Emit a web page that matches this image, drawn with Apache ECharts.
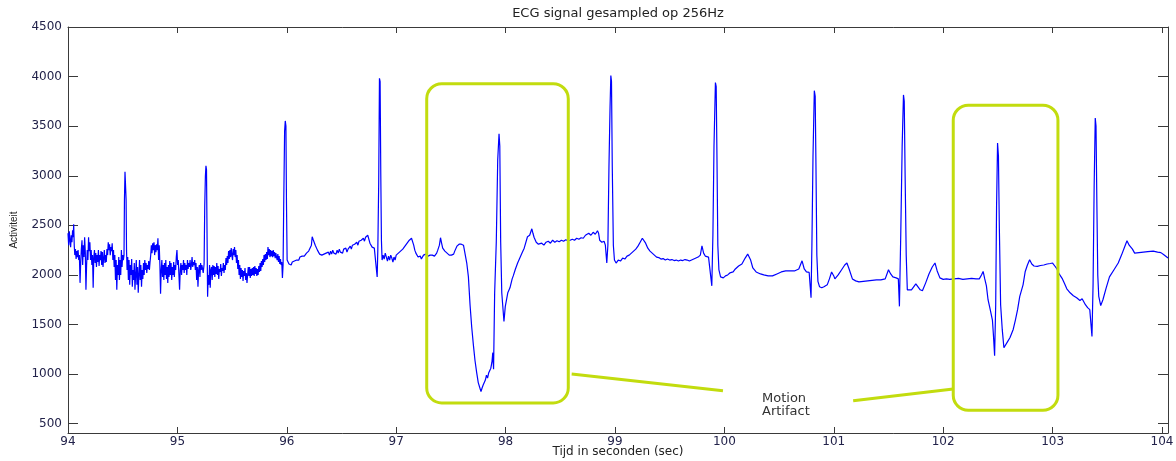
<!DOCTYPE html>
<html><head><meta charset="utf-8">
<script src="https://cdn.jsdelivr.net/npm/echarts@6/dist/echarts.min.js"></script>
<style>html,body{margin:0;padding:0;background:#fff}#chart{width:1176px;height:461px}</style>
</head><body><div id="chart"></div>
<script>
const chartTitle = 'ECG signal gesampled op 256Hz';
const xAxisName = 'Tijd in seconden (sec)';
const yAxisName = 'Activiteit';
const xTickLabels = [94, 95, 96, 97, 98, 99, 100, 101, 102, 103, 104];
const yTickLabels = [500, 1000, 1500, 2000, 2500, 3000, 3500, 4000, 4500];
const xRange = [94, 104.055];
const yRange = [406, 4500];

// ECG samples [time (s), activity], one array per second
const seg94 = [[94.000,2420],[94.006,2300],[94.012,2440],[94.018,2350],[94.024,2280],[94.030,2400],[94.036,2330],[94.042,2450],[94.048,2380],[94.052,2510],[94.057,2300],[94.062,2200],[94.068,2260],[94.074,2160],[94.080,2240],[94.086,2180],[94.092,2250],[94.098,2150],[94.104,2200],[94.110,1920],[94.116,2120],[94.122,2260],[94.128,2350],[94.134,2100],[94.140,2300],[94.146,2180],[94.152,2380],[94.158,2230],[94.164,1850],[94.170,2100],[94.176,2250],[94.182,2150],[94.188,2380],[94.194,2240],[94.200,2330],[94.206,2150],[94.212,2250],[94.218,2100],[94.224,2200],[94.230,1870],[94.236,2180],[94.242,2250],[94.248,2120],[94.254,2220],[94.260,2080],[94.266,2200],[94.272,2130],[94.278,2250],[94.284,2090],[94.290,2200],[94.296,2150],[94.302,2240],[94.308,2100],[94.314,2230],[94.320,2080],[94.326,2170],[94.332,2250],[94.338,2120],[94.344,2200],[94.350,2130],[94.356,2260],[94.362,2200],[94.368,2330],[94.374,2250],[94.380,2310],[94.386,2200],[94.392,2280],[94.398,2240],[94.404,2320],[94.410,2150],[94.416,2250],[94.422,2080],[94.428,2200],[94.434,1950],[94.440,2150],[94.446,1850],[94.452,2100],[94.458,2000],[94.464,2180],[94.470,1950],[94.476,2150],[94.482,2000],[94.488,2250],[94.494,2080],[94.500,2200],[94.506,2150],[94.512,2200],[94.516,2760],[94.521,3040],[94.526,3020],[94.531,2760],[94.535,2250],[94.540,2050],[94.546,2180],[94.552,1950],[94.558,2150],[94.564,1900],[94.570,2100],[94.576,2000],[94.582,2160],[94.588,1880],[94.594,2050],[94.600,1950],[94.606,2120],[94.612,1850],[94.618,2000],[94.624,2150],[94.630,1900],[94.636,2080],[94.642,1820],[94.648,2000],[94.654,2150],[94.660,1950],[94.666,2100],[94.672,1880],[94.678,2050],[94.684,1960],[94.690,2120],[94.696,2000],[94.702,2150],[94.708,2050],[94.714,2120],[94.720,2020],[94.726,2100],[94.732,2060],[94.738,2140],[94.744,2050],[94.750,2130],[94.756,2200],[94.762,2300],[94.768,2220],[94.774,2320],[94.780,2250],[94.786,2330],[94.792,2200],[94.798,2300],[94.804,2230],[94.810,2310],[94.816,2250],[94.822,2370],[94.828,2150],[94.834,2300],[94.840,2100],[94.846,1810],[94.852,2050],[94.858,2150],[94.864,1980],[94.870,2100],[94.876,1950],[94.882,2120],[94.888,2000],[94.894,2150],[94.900,1960],[94.906,2080],[94.912,1920],[94.918,2100],[94.924,1980],[94.930,2140],[94.936,2000],[94.942,2120],[94.948,1950],[94.954,2080],[94.960,2000],[94.966,2130],[94.972,1980],[94.978,2100],[94.984,2050],[94.990,2180],[94.996,2250]];
const seg95 = [[95.002,2100],[95.008,2150],[95.014,2000],[95.020,1850],[95.026,2050],[95.032,2120],[95.038,2000],[95.044,2100],[95.050,2050],[95.056,2150],[95.062,2020],[95.068,2120],[95.074,2050],[95.080,2100],[95.086,2000],[95.092,2150],[95.098,2060],[95.104,2120],[95.110,2080],[95.116,2150],[95.122,2050],[95.128,2100],[95.134,2180],[95.140,2080],[95.146,2130],[95.152,2100],[95.158,2150],[95.164,2050],[95.170,2120],[95.176,1950],[95.182,2080],[95.188,1880],[95.194,2050],[95.200,2100],[95.206,1980],[95.212,2120],[95.218,2050],[95.224,2100],[95.230,2080],[95.236,2020],[95.244,2110],[95.250,2700],[95.256,3000],[95.261,3100],[95.266,3060],[95.271,2400],[95.276,1780],[95.282,2000],[95.288,1900],[95.294,2100],[95.300,1870],[95.306,2050],[95.312,2080],[95.318,1950],[95.324,2100],[95.330,2000],[95.336,2090],[95.342,1980],[95.348,2080],[95.354,2010],[95.360,2120],[95.366,2000],[95.372,2090],[95.378,1960],[95.384,2060],[95.390,2030],[95.396,2110],[95.402,1990],[95.408,2070],[95.414,2040],[95.420,2120],[95.426,2020],[95.432,2100],[95.438,2050],[95.444,2170],[95.450,2100],[95.456,2190],[95.462,2120],[95.468,2240],[95.474,2160],[95.480,2250],[95.486,2180],[95.492,2270],[95.498,2200],[95.504,2150],[95.510,2260],[95.516,2200],[95.522,2280],[95.528,2180],[95.534,2250],[95.540,2120],[95.546,2200],[95.552,2060],[95.558,2150],[95.564,2000],[95.570,2100],[95.576,1960],[95.582,2070],[95.588,1980],[95.594,2050],[95.600,1940],[95.606,2040],[95.612,1990],[95.618,2070],[95.624,1950],[95.630,2020],[95.636,1920],[95.642,2000],[95.648,2080],[95.654,1990],[95.660,2080],[95.666,1970],[95.672,2060],[95.678,1990],[95.684,2070],[95.690,2000],[95.696,2080],[95.702,1990],[95.708,2090],[95.714,2010],[95.720,2070],[95.726,1990],[95.732,2060],[95.738,2000],[95.744,2090],[95.750,2030],[95.756,2120],[95.762,2040],[95.768,2140],[95.774,2080],[95.780,2160],[95.786,2100],[95.792,2200],[95.798,2130],[95.804,2210],[95.810,2150],[95.816,2230],[95.822,2160],[95.828,2280],[95.834,2200],[95.840,2260],[95.846,2180],[95.852,2250],[95.858,2190],[95.864,2240],[95.870,2180],[95.876,2250],[95.882,2190],[95.888,2230],[95.894,2170],[95.900,2220],[95.906,2180],[95.912,2150],[95.918,2210],[95.924,2130],[95.930,2190],[95.936,2110],[95.942,2160],[95.948,2100],[95.954,2130],[95.960,1970],[95.966,2100],[95.972,2730],[95.980,3450],[95.986,3553],[95.992,3500],[95.997,2730]];
const seg96 = [[96.003,2150],[96.010,2130],[96.020,2110],[96.030,2120],[96.040,2100],[96.050,2130],[96.060,2120],[96.070,2140],[96.080,2130],[96.090,2150],[96.100,2160],[96.110,2150],[96.120,2180],[96.130,2170],[96.140,2190],[96.150,2200],[96.160,2190],[96.180,2220],[96.200,2240],[96.215,2260],[96.225,2300],[96.232,2385],[96.240,2360],[96.250,2340],[96.260,2300],[96.270,2290],[96.280,2250],[96.290,2230],[96.300,2210],[96.310,2200],[96.320,2200],[96.330,2180],[96.340,2210],[96.350,2190],[96.360,2220],[96.370,2200],[96.380,2230],[96.390,2200],[96.400,2240],[96.410,2210],[96.420,2250],[96.430,2220],[96.440,2240],[96.450,2210],[96.460,2250],[96.470,2220],[96.480,2260],[96.490,2230],[96.500,2250],[96.510,2220],[96.520,2260],[96.530,2240],[96.540,2270],[96.550,2230],[96.560,2260],[96.570,2250],[96.580,2290],[96.590,2260],[96.600,2300],[96.610,2280],[96.620,2310],[96.630,2290],[96.640,2330],[96.650,2300],[96.660,2340],[96.670,2320],[96.680,2350],[96.690,2330],[96.700,2370],[96.710,2340],[96.720,2380],[96.730,2360],[96.740,2400],[96.750,2410],[96.760,2320],[96.770,2300],[96.780,2280],[96.790,2300],[96.800,2270],[96.810,2290],[96.818,2250],[96.826,1980],[96.832,2250],[96.840,2920],[96.847,3983],[96.853,3950],[96.859,3030],[96.865,2350],[96.871,2150],[96.880,2200],[96.890,2160],[96.900,2220],[96.910,2180],[96.920,2140],[96.930,2190],[96.940,2150],[96.950,2200],[96.960,2170],[96.970,2130],[96.980,2180],[96.990,2150]];
const seg97 = [[97.000,2200],[97.010,2180],[97.020,2220],[97.030,2200],[97.040,2240],[97.050,2230],[97.060,2260],[97.070,2270],[97.080,2290],[97.090,2300],[97.100,2320],[97.110,2330],[97.120,2350],[97.130,2360],[97.140,2370],[97.150,2385],[97.160,2300],[97.170,2250],[97.180,2220],[97.190,2200],[97.200,2180],[97.210,2160],[97.220,2190],[97.230,2160],[97.240,2170],[97.250,2200],[97.260,2190],[97.270,2210],[97.280,2200],[97.290,2190],[97.300,2210],[97.310,2200],[97.320,2220],[97.330,2200],[97.340,2210],[97.350,2190],[97.360,2210],[97.370,2220],[97.380,2250],[97.395,2300],[97.405,2375],[97.415,2320],[97.425,2270],[97.435,2280],[97.445,2240],[97.455,2260],[97.465,2220],[97.475,2230],[97.485,2200],[97.495,2190],[97.505,2200],[97.515,2180],[97.525,2210],[97.535,2240],[97.545,2260],[97.555,2290],[97.565,2300],[97.575,2310],[97.585,2300],[97.595,2310],[97.605,2290],[97.615,2300],[97.630,2210],[97.645,2120],[97.660,1980],[97.675,1700],[97.690,1478],[97.705,1300],[97.720,1140],[97.735,1020],[97.750,914],[97.765,860],[97.775,823],[97.785,860],[97.795,890],[97.805,870],[97.815,940],[97.825,990],[97.835,960],[97.845,1010],[97.855,990],[97.865,1060],[97.875,1120],[97.883,1216],[97.890,1050],[97.900,1820],[97.915,2334],[97.928,3160],[97.940,3422],[97.947,3300],[97.955,2334],[97.965,1820],[97.985,1531],[97.997,1680]];
const seg98 = [[98.010,1700],[98.020,1820],[98.040,1870],[98.060,1960],[98.070,1990],[98.090,2060],[98.110,2120],[98.130,2170],[98.150,2220],[98.170,2270],[98.180,2290],[98.200,2385],[98.220,2400],[98.240,2465],[98.250,2420],[98.260,2380],[98.280,2330],[98.300,2310],[98.310,2300],[98.330,2320],[98.350,2300],[98.370,2330],[98.390,2340],[98.410,2320],[98.430,2350],[98.450,2330],[98.470,2345],[98.490,2335],[98.510,2350],[98.530,2340],[98.550,2355],[98.570,2345],[98.590,2350],[98.610,2360],[98.630,2350],[98.650,2370],[98.670,2360],[98.690,2375],[98.710,2370],[98.730,2400],[98.745,2380],[98.760,2420],[98.780,2400],[98.800,2430],[98.820,2410],[98.840,2445],[98.850,2420],[98.860,2350],[98.880,2330],[98.900,2340],[98.912,2300],[98.925,2120],[98.935,2300],[98.945,3100],[98.955,3700],[98.962,4010],[98.968,3950],[98.975,3100],[98.985,2300],[98.995,2150]];
const seg99 = [[99.010,2120],[99.030,2150],[99.050,2140],[99.070,2170],[99.090,2160],[99.110,2190],[99.130,2200],[99.150,2220],[99.170,2240],[99.190,2260],[99.210,2290],[99.230,2330],[99.250,2370],[99.265,2380],[99.280,2320],[99.300,2270],[99.320,2240],[99.340,2220],[99.360,2200],[99.380,2180],[99.400,2175],[99.420,2160],[99.440,2165],[99.460,2150],[99.480,2160],[99.500,2150],[99.520,2155],[99.540,2145],[99.560,2150],[99.580,2140],[99.600,2150],[99.620,2145],[99.640,2155],[99.660,2150],[99.680,2140],[99.700,2150],[99.720,2160],[99.740,2170],[99.760,2180],[99.780,2200],[99.795,2294],[99.810,2220],[99.825,2190],[99.840,2200],[99.855,2180],[99.870,2180],[99.885,1890],[99.895,2400],[99.905,3300],[99.918,3940],[99.925,3900],[99.932,3200],[99.940,2300],[99.950,2050],[99.965,1980],[99.990,1970]];
const seg100 = [[100.010,1990],[100.030,2000],[100.050,2020],[100.080,2030],[100.100,2060],[100.130,2090],[100.160,2110],[100.190,2170],[100.213,2210],[100.240,2150],[100.260,2070],[100.290,2030],[100.330,2010],[100.360,2000],[100.400,1990],[100.440,1990],[100.480,2010],[100.520,2030],[100.560,2040],[100.600,2040],[100.640,2040],[100.680,2060],[100.710,2142],[100.730,2060],[100.750,2030],[100.775,2025],[100.792,1770],[100.800,2300],[100.810,3200],[100.822,3858],[100.830,3800],[100.837,3100],[100.845,2200],[100.855,1935],[100.870,1880],[100.890,1870],[100.910,1880],[100.940,1900],[100.960,1960],[100.980,2030]];
const seg101 = [[101.000,1990],[101.010,1960],[101.040,2000],[101.070,2050],[101.100,2100],[101.120,2120],[101.140,2060],[101.170,1960],[101.200,1940],[101.230,1930],[101.270,1935],[101.310,1940],[101.350,1945],[101.390,1950],[101.430,1950],[101.470,1960],[101.500,2052],[101.520,2010],[101.540,1980],[101.570,1970],[101.590,1960],[101.600,1683],[101.612,2400],[101.625,3300],[101.637,3815],[101.644,3750],[101.652,3000],[101.662,2200],[101.672,1850],[101.690,1840],[101.710,1850],[101.730,1880],[101.750,1910],[101.770,1880],[101.790,1850],[101.810,1840],[101.840,1920],[101.870,2010],[101.900,2080],[101.925,2120],[101.945,2040],[101.970,1970]];
const seg102 = [[102.000,1955],[102.030,1960],[102.060,1955],[102.100,1960],[102.140,1965],[102.180,1955],[102.220,1960],[102.260,1965],[102.300,1960],[102.330,1960],[102.350,2000],[102.365,2035],[102.380,1960],[102.395,1890],[102.410,1750],[102.430,1650],[102.450,1545],[102.460,1380],[102.470,1186],[102.480,1700],[102.488,2700],[102.497,3331],[102.505,3200],[102.513,2500],[102.525,1700],[102.540,1448],[102.555,1266],[102.570,1280],[102.590,1330],[102.610,1366],[102.640,1450],[102.660,1545],[102.680,1650],[102.700,1783],[102.730,1900],[102.750,2035],[102.770,2100],[102.790,2153],[102.810,2110],[102.830,2090],[102.860,2086],[102.890,2095],[102.920,2100],[102.950,2110],[102.980,2115]];
const seg103 = [[103.000,2120],[103.020,2090],[103.040,2060],[103.060,2010],[103.090,1960],[103.110,1910],[103.130,1860],[103.160,1820],[103.190,1790],[103.220,1770],[103.250,1743],[103.270,1760],[103.285,1780],[103.300,1700],[103.320,1670],[103.340,1650],[103.360,1380],[103.370,1900],[103.380,2900],[103.390,3583],[103.397,3500],[103.405,2700],[103.413,2000],[103.422,1783],[103.440,1690],[103.460,1750],[103.490,1870],[103.520,1980],[103.560,2050],[103.600,2120],[103.630,2200],[103.660,2287],[103.680,2345],[103.700,2300],[103.730,2260],[103.750,2220],[103.790,2225],[103.830,2230],[103.870,2235],[103.920,2240],[103.960,2230],[103.990,2225]];
const seg104 = [[104.020,2200],[104.055,2170]];

// annotation boxes [t0, v0, t1, v1] and leader lines, in data units
const artifactBoxes = [[97.279, 3928, 98.573, 709], [102.092, 3711, 103.049, 635]];
const artifactLeaders = [[98.604, 1001, 99.987, 833], [101.177, 732, 102.092, 850]];
const artifactLabel = 'Motion\nArtifact';
const artifactLabelAt = [100.344, 823];

const ecg = [].concat(seg94, seg95, seg96, seg97, seg98, seg99, seg100, seg101, seg102, seg103, seg104);

const FONT = '"DejaVu Sans", "Liberation Sans", Arial, sans-serif';
const AXIS_COLOR = '#3a3a3a';
const LABEL_COLOR = '#22224a';

function xAxisCfg(pos, showLabels) {
  return {
    type: 'value', position: pos, min: xRange[0], max: xRange[1], interval: 1,
    name: showLabels ? xAxisName : '', nameLocation: 'middle', nameGap: 13, nameMoveOverlap: false,
    nameTextStyle: { fontFamily: FONT, fontSize: 12, color: '#222' },
    axisLine: { show: true, onZero: false, lineStyle: { color: AXIS_COLOR, width: 1 } },
    axisTick: { show: true, inside: true, length: 6, lineStyle: { color: AXIS_COLOR } },
    axisLabel: { show: showLabels, margin: 3, fontFamily: FONT, fontSize: 12, color: LABEL_COLOR,
      showMinLabel: true, showMaxLabel: false,
      formatter: v => xTickLabels.indexOf(Math.round(v * 1000) / 1000) >= 0 ? String(v) : '' },
    splitLine: { show: false }
  };
}
function yAxisCfg(pos, showLabels) {
  return {
    type: 'value', position: pos, min: yRange[0], max: yRange[1],
    splitNumber: 8, minInterval: 500, maxInterval: 500,
    name: showLabels ? yAxisName : '', nameLocation: 'middle', nameGap: 49, nameRotate: 90, nameMoveOverlap: false,
    nameTextStyle: { fontFamily: '"Liberation Sans", Arial, sans-serif', fontSize: 10, color: '#222' },
    axisLine: { show: true, onZero: false, lineStyle: { color: AXIS_COLOR, width: 1 } },
    axisTick: { show: true, inside: true, length: 10, lineStyle: { color: AXIS_COLOR } },
    axisLabel: { show: showLabels, margin: 6, fontFamily: FONT, fontSize: 12, color: LABEL_COLOR,
      showMinLabel: false, showMaxLabel: true,
      formatter: v => yTickLabels.indexOf(v) >= 0 ? String(v) : '' },
    splitLine: { show: false }
  };
}

const chart = echarts.init(document.getElementById('chart'), null, { renderer: 'canvas' });
chart.setOption({
  animation: false,
  backgroundColor: '#ffffff',
  title: { text: chartTitle, left: 618, textAlign: 'center', top: 7, padding: 0,
    textStyle: { fontFamily: FONT, fontSize: 13, fontWeight: 'normal', color: '#222' } },
  grid: { left: 68, right: 8, top: 27, bottom: 28, containLabel: false, outerBoundsMode: 'none' },
  xAxis: [xAxisCfg('bottom', true), xAxisCfg('top', false)],
  yAxis: [yAxisCfg('left', true), yAxisCfg('right', false)],
  series: [{
    type: 'line', xAxisIndex: 0, yAxisIndex: 0, data: ecg,
    showSymbol: false, symbol: 'none', smooth: false, sampling: null,
    lineStyle: { color: '#0000ff', width: 1.2 }, silent: true, z: 2
  }]
});

const toPx = p => chart.convertToPixel({ seriesIndex: 0 }, p);
const BOX_COLOR = '#c2dc0e';
const graphics = [];
artifactBoxes.forEach(b => {
  const a = toPx([b[0], b[1]]), c = toPx([b[2], b[3]]);
  graphics.push({ type: 'rect', silent: true, z: 10,
    shape: { x: a[0], y: a[1], width: c[0] - a[0], height: c[1] - a[1], r: 15 },
    style: { fill: 'none', stroke: BOX_COLOR, lineWidth: 3 } });
});
artifactLeaders.forEach(l => {
  const a = toPx([l[0], l[1]]), c = toPx([l[2], l[3]]);
  graphics.push({ type: 'line', silent: true, z: 10,
    shape: { x1: a[0], y1: a[1], x2: c[0], y2: c[1] },
    style: { stroke: BOX_COLOR, lineWidth: 3 } });
});
const tp = toPx(artifactLabelAt);
graphics.push({ type: 'text', silent: true, z: 11, x: tp[0], y: tp[1],
  style: { text: artifactLabel, font: '13px "DejaVu Sans", sans-serif', fill: '#333',
    lineHeight: 13, align: 'left', verticalAlign: 'top' } });
chart.setOption({ graphic: graphics });
</script>
</body></html>
